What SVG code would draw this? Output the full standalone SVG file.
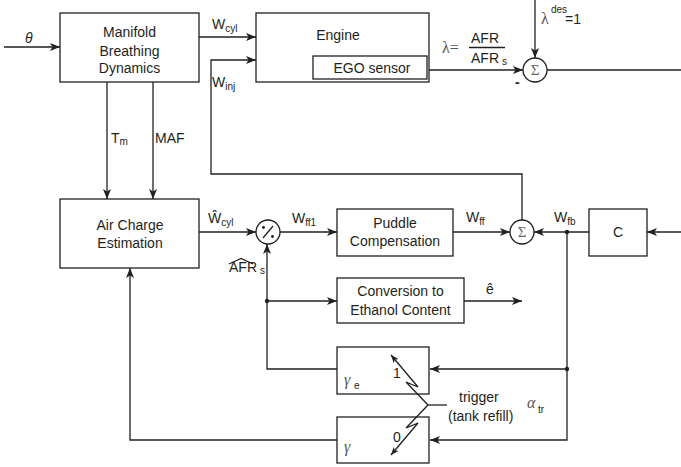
<svg xmlns="http://www.w3.org/2000/svg" width="681" height="467" viewBox="0 0 681 467">
<style>
.box{fill:#fff;stroke:#231f20;stroke-width:1.3}
.ln{fill:none;stroke:#231f20;stroke-width:1.3}
.t{font-family:"Liberation Sans",Arial,sans-serif;font-size:14px;fill:#231f20}
.c{text-anchor:middle}
.sub{font-size:10px}
.gr{font-family:"Liberation Serif","Times New Roman",serif;fill:#555}
.sig{font-family:"Liberation Serif","Times New Roman",serif;font-size:15px;fill:#666;text-anchor:middle}
</style>
<defs>
<marker id="ah" viewBox="0 0 10 8" refX="10" refY="4" markerWidth="10" markerHeight="8" markerUnits="userSpaceOnUse" orient="auto">
<path d="M0,0 L10,4 L0,8 L2.5,4 z" fill="#231f20"/>
</marker>
<marker id="as" viewBox="0 0 10 8" refX="10" refY="4" markerWidth="8" markerHeight="6.4" markerUnits="userSpaceOnUse" orient="auto">
<path d="M0,0 L10,4 L0,8 L2.5,4 z" fill="#231f20"/>
</marker>
</defs>
<rect width="681" height="467" fill="#fff"/>

<g id="connectors">
<path class="ln" d="M4,47 H60" marker-end="url(#ah)"/>
<path class="ln" d="M199,37 H256" marker-end="url(#ah)"/>
<path class="ln" d="M522,220 V174 H211 V60 H256" marker-end="url(#ah)"/>
<path class="ln" d="M427,70 H523" marker-end="url(#ah)"/>
<path class="ln" d="M535,0 V58" marker-end="url(#ah)"/>
<path class="ln" d="M547,70 H681"/>
<path class="ln" d="M107,82 V199" marker-end="url(#ah)"/>
<path class="ln" d="M153,82 V199" marker-end="url(#ah)"/>
<path class="ln" d="M199,232 H256" marker-end="url(#ah)"/>
<path class="ln" d="M280,232 H337" marker-end="url(#ah)"/>
<path class="ln" d="M453,232 H510" marker-end="url(#ah)"/>
<path class="ln" d="M681,232 H647" marker-end="url(#ah)"/>
<path class="ln" d="M589,232 H534" marker-end="url(#ah)"/>
<path class="ln" d="M567,232 V440 H430" marker-end="url(#ah)"/>
<path class="ln" d="M567,369 H430" marker-end="url(#ah)"/>
<path class="ln" d="M337,369 H267 V244" marker-end="url(#ah)"/>
<path class="ln" d="M267,301 H337" marker-end="url(#ah)"/>
<path class="ln" d="M464,301 H522" marker-end="url(#ah)"/>
<path class="ln" d="M337,440 H130 V268" marker-end="url(#ah)"/>
<circle cx="567" cy="232" r="2.2" fill="#231f20"/>
<circle cx="567" cy="369" r="2.2" fill="#231f20"/>
<circle cx="267" cy="301" r="2.2" fill="#231f20"/>
</g>

<g id="manifold">
<rect class="box" x="60" y="13" width="139" height="69"/>
<text class="t c" x="129.5" y="37">Manifold</text>
<text class="t c" x="129.5" y="55.5">Breathing</text>
<text class="t c" x="129.5" y="73">Dynamics</text>
</g>

<g id="engine">
<rect class="box" x="256" y="13" width="173" height="69"/>
<text class="t c" x="338" y="40">Engine</text>
</g>
<g id="ego">
<rect class="box" x="313" y="56" width="114" height="23"/>
<text class="t c" x="372" y="73">EGO sensor</text>
</g>

<g id="sum1">
<circle class="box" cx="535" cy="70" r="12"/>
<text class="sig" x="535" y="75">Σ</text>
</g>

<g id="aircharge">
<rect class="box" x="60" y="199" width="139" height="69"/>
<text class="t c" x="130" y="230">Air Charge</text>
<text class="t c" x="130" y="248">Estimation</text>
</g>

<g id="divide">
<circle class="box" cx="268" cy="232" r="12"/>
<path class="ln" d="M263,238 L273,226"/>
<circle cx="263.5" cy="227.5" r="1.4" fill="#231f20"/>
<circle cx="272.5" cy="236.5" r="1.4" fill="#231f20"/>
</g>

<g id="puddle">
<rect class="box" x="337" y="209" width="116" height="47"/>
<text class="t c" x="395" y="228">Puddle</text>
<text class="t c" x="395" y="246">Compensation</text>
</g>

<g id="sum2">
<circle class="box" cx="522" cy="232" r="12"/>
<text class="sig" x="522" y="237">Σ</text>
</g>

<g id="c">
<rect class="box" x="589" y="209" width="58" height="47"/>
<text class="t c" x="618" y="237">C</text>
</g>

<g id="conversion">
<rect class="box" x="337" y="278" width="127" height="45"/>
<text class="t c" x="400.5" y="296">Conversion to</text>
<text class="t c" x="400.5" y="315">Ethanol Content</text>
</g>

<g id="gamma-e">
<rect class="box" x="337" y="347" width="92" height="47"/>
<text class="gr" x="344" y="385" font-size="16" font-style="italic">γ</text>
<text class="t sub" x="354" y="389">e</text>
<text class="t" x="393" y="378">1</text>
</g>

<g id="gamma">
<rect class="box" x="337" y="417" width="92" height="46"/>
<text class="gr" x="344" y="452" font-size="16" font-style="italic">γ</text>
<text class="t" x="393" y="442">0</text>
</g>

<g id="switch">
<path class="ln" d="M428,405 L406,382 L418,387 L391,355" marker-end="url(#as)"/>
<path class="ln" d="M428,405 L406,428 L418,423 L391,455" marker-end="url(#as)"/>
<path class="ln" d="M428,405 H447"/>
</g>

<g id="labels">
<text class="t" x="25" y="43" font-style="italic">θ</text>
<text class="t" x="212" y="29">W<tspan class="sub" dy="3">cyl</tspan></text>
<text class="t" x="212" y="87">W<tspan class="sub" dy="3">inj</tspan></text>
<text class="gr" x="442" y="53" font-size="16">λ=</text>
<text class="t" x="471" y="43">AFR</text>
<line class="ln" x1="469" y1="47.5" x2="505" y2="47.5"/>
<text class="t" x="471" y="63">AFR<tspan class="sub" dx="3" dy="2">s</tspan></text>
<text class="t" x="515" y="87" font-weight="bold">-</text>
<text class="gr" x="541" y="24" font-size="16">λ</text>
<text class="t sub" x="551" y="13">des</text>
<text class="t" x="565" y="24">=1</text>
<text class="t" x="111" y="143">T<tspan class="sub" dy="2">m</tspan></text>
<text class="t" x="155" y="143">MAF</text>
<text class="t" x="208" y="223">Ŵ<tspan class="sub" dy="3">cyl</tspan></text>
<text class="t" x="292" y="223">W<tspan class="sub" dy="3">ff1</tspan></text>
<text class="t" x="229" y="272">AFR<tspan class="sub" dx="3" dy="2">s</tspan></text>
<polyline class="ln" points="229,264 241,258.5 253,264" stroke-width="1"/>
<text class="t" x="466" y="222">W<tspan class="sub" dy="3">ff</tspan></text>
<text class="t" x="554" y="222">W<tspan class="sub" dy="3">fb</tspan></text>
<text class="t" x="486" y="294">ê</text>
<text class="t" x="459" y="402">trigger</text>
<text class="t" x="448" y="421">(tank refill)</text>
<text class="gr" x="527" y="408" font-size="16" font-style="italic">α</text>
<text class="t sub" x="538" y="413">tr</text>
</g>
</svg>
